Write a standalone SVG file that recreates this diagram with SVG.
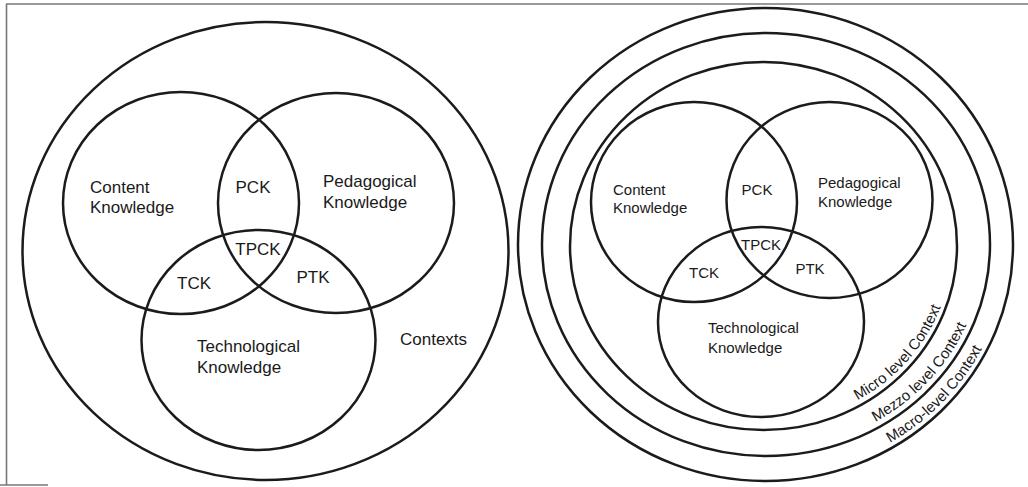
<svg xmlns="http://www.w3.org/2000/svg" xmlns:xlink="http://www.w3.org/1999/xlink" width="1028" height="487" viewBox="0 0 1028 487">
<style>
.c{fill:none;stroke:#1b1b1b;stroke-width:2.5}
.f{fill:none;stroke:#777;stroke-width:1.6}
.t{font-family:"Liberation Sans",Arial,sans-serif;fill:#1a1a1a}
.L{font-size:17px}
.R{font-size:15px}
.A{font-size:15px}
.m{text-anchor:middle}
</style>
<defs>
<path id="p3" d="M763.5,424 A188.5,178 0 0 0 952,246 A188.5,178 0 0 0 763.5,68"/>
<path id="p2" d="M766,449.5 A218,205 0 0 0 984,244.5 A218,205 0 0 0 766,39.5"/>
<path id="p1" d="M765.5,475.5 A242.5,231 0 0 0 1008,244.5 A242.5,231 0 0 0 765.5,13.5"/>
</defs>
<rect width="1028" height="487" fill="#fff"/>
<g id="frame">
<line class="f" x1="6" y1="4" x2="1028" y2="4"/>
<line class="f" x1="6.5" y1="4" x2="6.5" y2="485"/>
<line class="f" x1="0" y1="485" x2="48" y2="485"/>
</g>
<g id="connectors"/>
<g id="left-contexts">
<ellipse class="c" cx="265.5" cy="251" rx="243" ry="229"/>
<text class="t L" x="400" y="345">Contexts</text>
</g>
<g id="left-content">
<ellipse class="c" cx="181" cy="203" rx="118" ry="111"/>
<text class="t L" x="90" y="193">Content</text>
<text class="t L" x="90" y="213">Knowledge</text>
</g>
<g id="left-pedagogical">
<ellipse class="c" cx="336" cy="203" rx="118" ry="110"/>
<text class="t L" x="323" y="187">Pedagogical</text>
<text class="t L" x="323" y="208">Knowledge</text>
</g>
<g id="left-technological">
<ellipse class="c" cx="258.5" cy="340" rx="117" ry="110"/>
<text class="t L" x="197" y="352">Technological</text>
<text class="t L" x="197" y="373">Knowledge</text>
</g>
<g id="left-overlaps">
<text class="t L m" x="253" y="193">PCK</text>
<text class="t L m" x="258" y="255">TPCK</text>
<text class="t L m" x="194" y="289">TCK</text>
<text class="t L m" x="313" y="283">PTK</text>
</g>
<g id="right-macro">
<ellipse class="c" cx="765.5" cy="244.5" rx="247.5" ry="236.5"/>
<text class="t A"><textPath xlink:href="#p1" href="#p1" startOffset="130">Macro-level Context</textPath></text>
</g>
<g id="right-mezzo">
<ellipse class="c" cx="766" cy="244.5" rx="224" ry="211.5"/>
<text class="t A"><textPath xlink:href="#p2" href="#p2" startOffset="114">Mezzo level Context</textPath></text>
</g>
<g id="right-micro">
<ellipse class="c" cx="763.5" cy="246" rx="193.5" ry="184"/>
<text class="t A"><textPath xlink:href="#p3" href="#p3" startOffset="98">Micro level Context</textPath></text>
</g>
<g id="right-content">
<ellipse class="c" cx="694" cy="202" rx="103" ry="100"/>
<text class="t R" x="613" y="195">Content</text>
<text class="t R" x="613" y="213">Knowledge</text>
</g>
<g id="right-pedagogical">
<ellipse class="c" cx="829.5" cy="200" rx="103" ry="98"/>
<text class="t R" x="818" y="188">Pedagogical</text>
<text class="t R" x="818" y="207">Knowledge</text>
</g>
<g id="right-technological">
<ellipse class="c" cx="761" cy="322" rx="103" ry="95"/>
<text class="t R" x="708" y="333">Technological</text>
<text class="t R" x="708" y="353">Knowledge</text>
</g>
<g id="right-overlaps">
<text class="t R m" x="757" y="195">PCK</text>
<text class="t R m" x="761" y="250">TPCK</text>
<text class="t R m" x="704" y="278">TCK</text>
<text class="t R m" x="810" y="274">PTK</text>
</g>
</svg>
